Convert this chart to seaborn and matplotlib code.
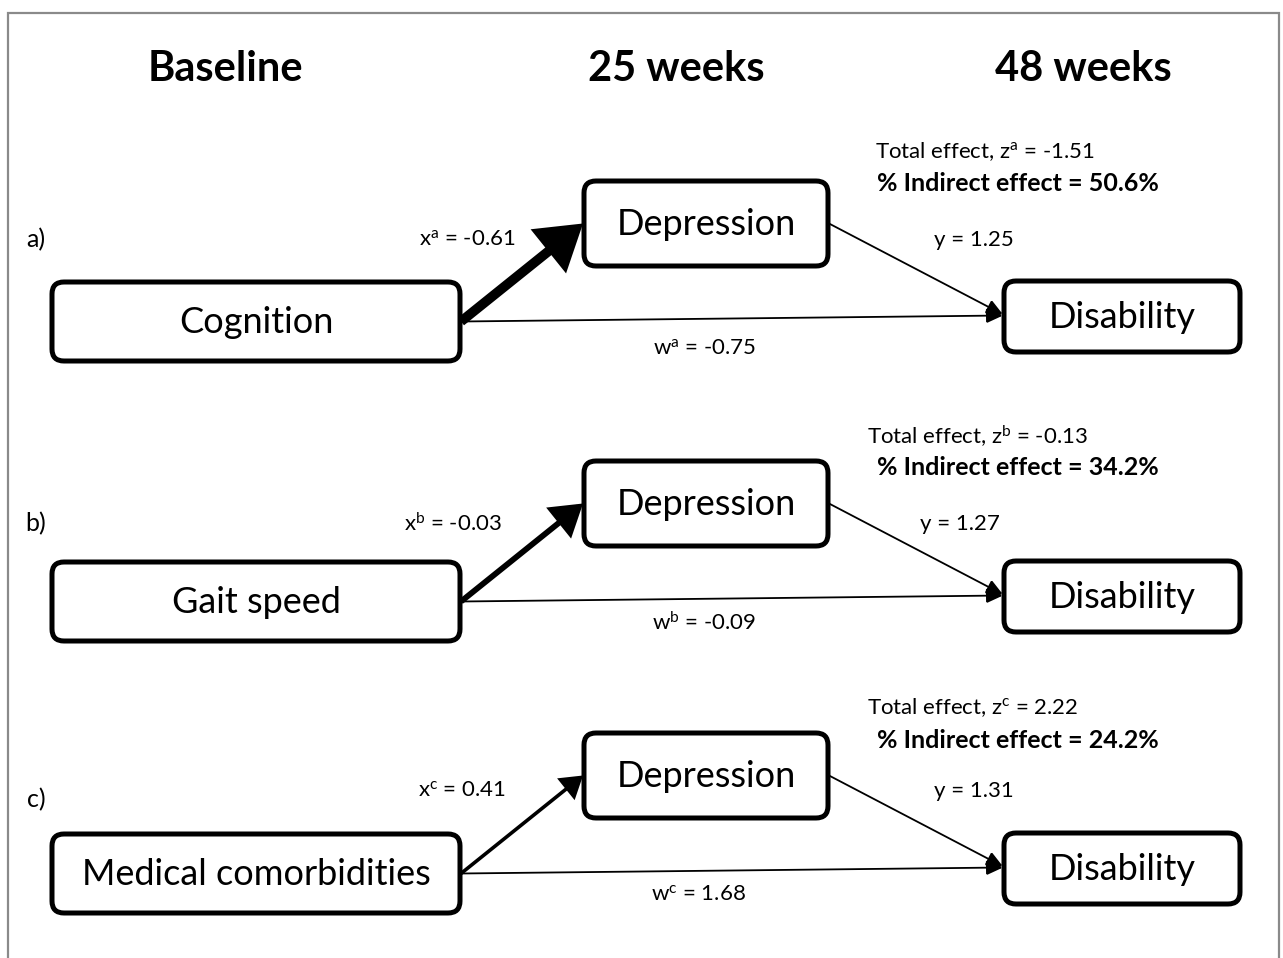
import numpy as np
import pandas as pd
import matplotlib
matplotlib.use("Agg")
import matplotlib.pyplot as plt
import seaborn as sns
from matplotlib.patches import FancyBboxPatch, FancyArrowPatch

# data
panel_tags = ["a", "b", "c"]
predictors = ["Cognition", "Gait speed", "Medical comorbidities"]
mediator = "Depression"
outcome = "Disability"
time_points = ["Baseline", "25 weeks", "48 weeks"]
x_coef = [-0.61, -0.03, 0.41]
y_coef = [1.25, 1.27, 1.31]
w_coef = [-0.75, -0.09, 1.68]
z_total = [-1.51, -0.13, 2.22]
indirect_pct = [50.6, 34.2, 24.2]

sns.set_theme(style="white")
plt.rcParams["font.family"] = ["Lato", "DejaVu Sans"]
plt.rcParams["text.color"] = "black"
plt.rcParams["mathtext.fontset"] = "custom"
plt.rcParams["mathtext.rm"] = "Lato"
plt.rcParams["mathtext.it"] = "Lato"

W, H = 1283, 958
fig = plt.figure(figsize=(W / 100, H / 100), dpi=100)
ax = fig.add_axes([0, 0, 1, 1])
ax.set_xlim(0, W)
ax.set_ylim(H, 0)
ax.axis("off")

# outer frame
ax.plot([8, 8, 1279, 1279], [H + 5, 13, 13, H + 5], color="#8a8a8a", lw=1.6,
        solid_joinstyle="miter")

# column headers
for xc, lab in zip([225, 676, 1083], time_points):
    ax.text(xc, 69, lab, ha="center", va="center", fontsize=30, fontweight="bold")

# layout per panel (pixel shift of each row)
offsets = [0, 280, 552]
arrow_lw = [7.0, 4.2, 2.6]
head_scale = [1.0, 0.75, 0.55]


def box(x0, y0, x1, y1, label, fs=26):
    p = FancyBboxPatch((x0, y0), x1 - x0, y1 - y0,
                       boxstyle="round,pad=0,rounding_size=12",
                       fc="white", ec="black", lw=3.6, zorder=3)
    ax.add_patch(p)
    ax.text((x0 + x1) / 2, (y0 + y1) / 2 + 1, label, ha="center", va="center",
            fontsize=fs, zorder=4)


def arrow(p0, p1, lw, hl, hw):
    a = FancyArrowPatch(p0, p1, arrowstyle=f"-|>,head_length={hl},head_width={hw}",
                        mutation_scale=10, lw=lw, color="black",
                        shrinkA=0, shrinkB=0, zorder=2, joinstyle="miter",
                        capstyle="butt")
    ax.add_patch(a)


# small per-row nudges of the labels
x_lab_x = [467, 453, 462]
w_lab = [(704, 349), (704, 623), (698, 895)]
y_lab_x = [974, 960, 974]
tot_pos = [(875, 152), (867, 436), (867, 708)]
ind_y = [183, 467, 740]
tag_y = [240, 524, 800]
edge_y = [240, 524, 791]

for i, tag in enumerate(panel_tags):
    d = offsets[i]
    pred_y = (282 + d, 361 + d)
    med_y = (181 + d, 266 + d)
    out_y = (281 + d, 352 + d)
    box(52, pred_y[0], 460, pred_y[1], predictors[i])
    box(584, med_y[0], 828, med_y[1], mediator)
    box(1004, out_y[0], 1240, out_y[1], outcome)

    pm = (pred_y[0] + pred_y[1]) / 2
    mm = (med_y[0] + med_y[1]) / 2
    om = (out_y[0] + out_y[1]) / 2

    s = head_scale[i]
    arrow((461, pm), (583, mm), arrow_lw[i], 2.2 * s, 1.4 * s)
    arrow((461, pm), (1003, om - 1), 1.3, 1.0, 0.45)
    arrow((829, mm), (1003, om - 2), 1.3, 1.0, 0.45)

    ax.text(36, tag_y[i], f"{tag})", ha="center", va="center", fontsize=18)
    ax.text(x_lab_x[i], edge_y[i], rf"x$^{{\mathrm{{{tag}}}}}$ = {x_coef[i]:.2f}",
            ha="center", va="center", fontsize=16)
    ax.text(w_lab[i][0], w_lab[i][1], rf"w$^{{\mathrm{{{tag}}}}}$ = {w_coef[i]:.2f}",
            ha="center", va="center", fontsize=16)
    ax.text(y_lab_x[i], edge_y[i], f"y = {y_coef[i]:.2f}",
            ha="center", va="center", fontsize=16)
    ax.text(tot_pos[i][0], tot_pos[i][1],
            rf"Total effect, z$^{{\mathrm{{{tag}}}}}$ = {z_total[i]:.2f}",
            ha="left", va="center", fontsize=16)
    ax.text(877, ind_y[i], f"% Indirect effect = {indirect_pct[i]:.1f}%",
            ha="left", va="center", fontsize=18, fontweight="bold")

fig.savefig("out.png", dpi=100)
